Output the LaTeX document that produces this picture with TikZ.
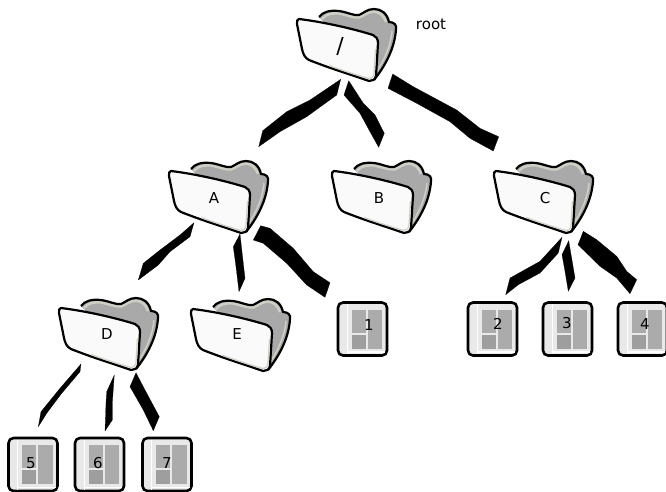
\documentclass[tikz,border=0pt]{standalone}
\usepackage{fontspec}
\setmainfont{DejaVu Sans}
\definecolor{folderGray}{HTML}{A9A9A9}
\definecolor{folderRim}{HTML}{CFCFC6}
\definecolor{folderEdge}{HTML}{D2D2CA}
\definecolor{panelGray}{HTML}{ABABAB}
\definecolor{panelDark}{HTML}{9E9E9E}
\definecolor{fileBack}{HTML}{E9E9E9}
\tikzset{
  tag/.style={font=\fontsize{15}{17}\selectfont, inner sep=0pt},
  outline/.style={draw=black, line width=2.2pt, line join=round},
  brush/.style={fill=black, draw=black, line width=0.2pt, line join=round},
  folder/.pic={
    \path[fill=folderGray] (20,-2) .. controls (24,-7) and (30,-9) .. (40,-8)
      .. controls (48,-7) and (55,-3) .. (60,-4) .. controls (65,-6) and (68,-10) .. (75,-10)
      .. controls (82,-10) and (88,-6) .. (90,3) .. controls (95,3) and (98,6) .. (97,10)
      .. controls (96,25) and (90,42) .. (75,61) -- (50,30) -- cycle;
    \draw[folderRim, line width=2.5pt] (23,0) .. controls (27,-5) and (32,-6) .. (40,-5.5)
      .. controls (48,-4) and (55,-1) .. (60,-1.5) .. controls (65,-3) and (68,-7) .. (75,-7.5)
      .. controls (81,-7) and (85,-3) .. (87,3);
    \draw[folderRim, line width=1.5pt] (93,12) .. controls (92,25) and (86,40) .. (78,52);
    \draw[outline] (20,-2) .. controls (24,-7) and (30,-9) .. (40,-8)
      .. controls (48,-7) and (55,-3) .. (60,-4) .. controls (65,-6) and (68,-10) .. (75,-10)
      .. controls (82,-10) and (88,-6) .. (90,3) .. controls (95,3) and (98,6) .. (97,10)
      .. controls (96,25) and (90,42) .. (75,61);
    \path[outline, fill=white!98!black] (0,0) .. controls (25,3) and (55,10) .. (74,16)
      .. controls (77,17) and (79,20) .. (79,24) -- (77,57)
      .. controls (76,61) and (73,62) .. (70,62) .. controls (50,55) and (30,49) .. (10,41)
      .. controls (6,39) and (4,35) .. (3,30) -- (-2,5) .. controls (-2,2) and (-2,0) .. (0,0) -- cycle;
    \draw[folderEdge, line width=1.3pt] (30,46.5) .. controls (45,52) and (58,56) .. (70,59.5)
      .. controls (73,59.5) and (74.5,58) .. (75,55) -- (76.5,30);
  },
  file/.pic={
    \path[outline, line width=2.6pt, fill=fileBack, rounded corners=5pt] (0,0) rectangle (49,53);
    \fill[white] (8.5,1.5) rectangle (9.3,51.5);
    \fill[white] (9.3,48.5) rectangle (47,50);
    \fill[panelGray] (13.5,7) rectangle (27.5,30);
    \fill[panelDark] (13.5,32) rectangle (27.5,46);
    \fill[panelGray] (29.5,7) rectangle (44,46);
  }
}

\begin{document}
\begin{tikzpicture}[x=1pt, y=-1pt]
  \useasboundingbox (0,0) rectangle (666,491);
  % folders
  \pic at (299,19) {folder};
  \pic at (171,171) {folder};
  \pic at (334,171) {folder};
  \pic at (496,171) {folder};
  \pic at (61,308) {folder};
  \pic at (193,309) {folder};
  % files
  \pic at (338,302.5) {file};
  \pic at (468,302.5) {file};
  \pic at (543,302.5) {file};
  \pic at (618,302.5) {file};
  \pic at (8.5,438) {file};
  \pic at (75,438) {file};
  \pic at (142.5,438) {file};
  % labels
  \node[tag, font=\fontsize{22}{24}\selectfont] (root) at (340,46) {/};
  \node[tag] (rootname) at (431,24) {root};
  \node[tag] (A) at (214,198) {A};
  \node[tag] (B) at (379,198) {B};
  \node[tag] (C) at (545,198) {C};
  \node[tag] (D) at (107,334) {D};
  \node[tag] (E) at (237,334) {E};
  \node[tag] (f1) at (369,325) {1};
  \node[tag] (f2) at (498,324) {2};
  \node[tag] (f3) at (567,323) {3};
  \node[tag] (f4) at (645,324) {4};
  \node[tag] (f5) at (31,463) {5};
  \node[tag] (f6) at (98,463) {6};
  \node[tag] (f7) at (167,463) {7};
  % connector ends
  \coordinate (rootA) at (340.7,79.3);
  \coordinate (Aroot) at (258.7,146.7);
  \coordinate (rootB) at (348.7,80.7);
  \coordinate (Broot) at (378.7,147.3);
  \coordinate (rootC) at (392.7,74);
  \coordinate (Croot) at (493.3,151);
  \coordinate (AD) at (194,222.7);
  \coordinate (DA) at (138.3,280);
  \coordinate (AE) at (240,234);
  \coordinate (EA) at (239,291.7);
  \coordinate (Af1) at (260.7,225.7);
  \coordinate (f1A) at (325,297.3);
  \coordinate (C2) at (562,237.3);
  \coordinate (f2C) at (505.7,294.7);
  \coordinate (C3) at (568.7,240.7);
  \coordinate (f3C) at (568.3,291.3);
  \coordinate (C4) at (583.3,231.3);
  \coordinate (f4C) at (630,293.7);
  \coordinate (D5) at (81,364);
  \coordinate (f5D) at (38.3,426.7);
  \coordinate (D6) at (114.3,375);
  \coordinate (f6D) at (105,431);
  \coordinate (D7) at (136,372.7);
  \coordinate (f7D) at (153.3,430.7);
  % connectors
  \fill[brush] (rootA) -- (310,100) -- (286.7,111.7) -- (262.7,130.7) -- (Aroot)
    -- (280,131.7) -- (306.7,116.7) -- (336.7,95) -- cycle;
  \fill[brush] (rootB) -- (363.3,103.3) -- (375,115) -- (384.3,133.3) -- (Broot)
    -- (370,131.7) -- (360,113.3) -- (344,95) -- cycle;
  \fill[brush] (rootC) -- (413.3,86.7) -- (456.7,110) -- (480,128.3) -- (498.7,136.7) -- (Croot)
    -- (470,138.3) -- (450,121.7) -- (416.7,103.3) -- (388,88.3) -- cycle;
  \fill[brush] (AD) -- (190,236.7) -- (170,251.7) -- (158.3,265) -- (DA)
    -- (143.3,263.3) -- (160,250) -- (180,235) -- cycle;
  \fill[brush] (AE) -- (241,243) -- (245,278.3) -- (EA)
    -- (236,266.7) -- (233.3,246.7) -- cycle;
  \fill[brush] (Af1) -- (270,228.3) -- (293.3,248.3) -- (313.3,271.7) -- (330,282.7) -- (f1A)
    -- (306.7,285) -- (286.7,263.3) -- (263.3,243.3) -- (253.3,240) -- cycle;
  \fill[brush] (C2) -- (540,261.3) -- (510,278) -- (f2C)
    -- (518.3,284.7) -- (540,273) -- (558.3,253) -- cycle;
  \fill[brush] (C3) -- (575,278) -- (f3C) -- (565,271.3) -- (562,254.7) -- cycle;
  \fill[brush] (C4) -- (596.7,239.7) -- (616.7,256.3) -- (626.7,271.3) -- (636.7,279.7) -- (f4C)
    -- (616.7,278) -- (600,266.3) -- (578,244.7) -- cycle;
  \fill[brush] (D5) -- (80,371.7) -- (61.7,393.3) -- (46.7,413.3) -- (f5D)
    -- (41,411.7) -- (60,388.3) -- cycle;
  \fill[brush] (D6) -- (112.3,403.3) -- (112.3,420) -- (f6D)
    -- (106,403.3) -- (106.7,391.7) -- cycle;
  \fill[brush] (D7) -- (145,390) -- (159.3,416.7) -- (f7D)
    -- (143.3,410) -- (130,386.7) -- cycle;
\end{tikzpicture}
\end{document}
